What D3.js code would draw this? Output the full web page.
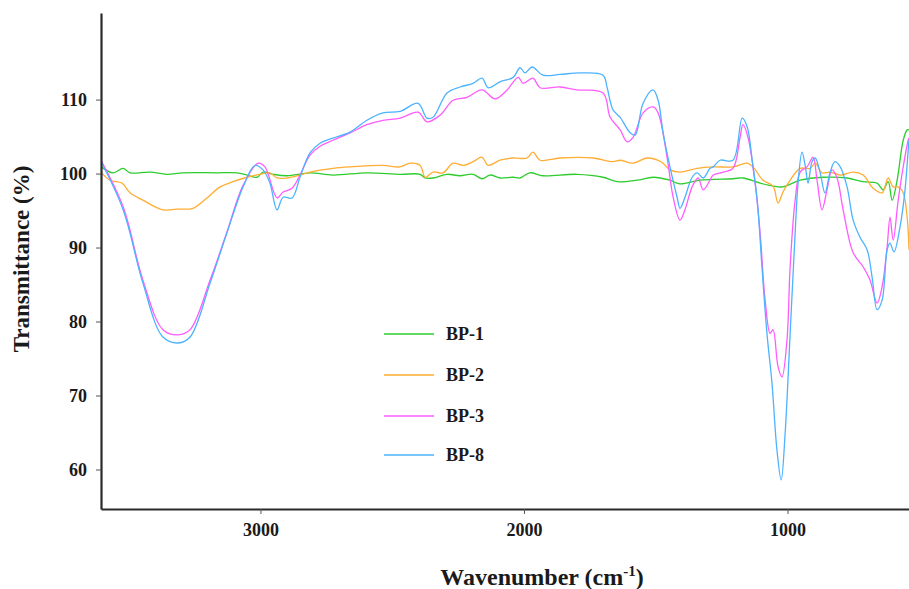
<!DOCTYPE html>
<html>
<head>
<meta charset="utf-8">
<script src="https://cdn.jsdelivr.net/npm/d3@7"></script>
<style>
  html, body { margin: 0; padding: 0; background: #ffffff; }
  svg { display: block; }
  text { font-family: "Liberation Serif", "Times New Roman", serif; font-weight: bold; fill: #1a1a1a; }
</style>
</head>
<body>
<svg id="chart" width="909" height="589"></svg>
<script>
// ---- data (wavenumber cm^-1, transmittance %) ----
const seriesNames = ["BP-1", "BP-2", "BP-3", "BP-8"];
const seriesColors = ["#2ecc2e", "#ffad33", "#ff5cff", "#4db3ff"];
const waveTicks = [3000, 2000, 1000];
const transTicks = [60, 70, 80, 90, 100, 110];

const bp1 = [
  [3605,100.9],[3559,100.1],[3521,100.7],[3495,100.1],[3419,100.2],[3355,99.9],[3294,100.1],
  [3165,100.1],[3089,100.1],[3051,99.8],[3013,99.5],[2990,100.2],[2952,99.9],[2899,99.7],
  [2812,100.1],[2725,99.8],[2596,100.1],[2470,99.9],[2394,99.9],[2375,99.4],[2345,99.4],
  [2292,99.9],[2243,99.7],[2193,99.9],[2159,99.3],[2129,99.8],[2091,99.4],[2041,99.5],
  [2015,99.4],[1977,100.1],[1928,99.7],[1799,99.9],[1700,99.5],[1647,98.9],[1571,99.1],
  [1510,99.5],[1446,99.1],[1408,98.6],[1332,99.1],[1207,99.3],[1169,99.4],[1104,98.7],
  [1055,98.3],[1017,98.2],[952,99.1],[865,99.5],[774,99.4],[713,98.9],[660,98.7],
  [637,97.8],[618,98.9],[603,96.4],[584,99.1],[561,104.5],[546,105.9],[539,105.9]
];

const bp2 = [
  [3605,100.2],[3571,99.1],[3525,98.7],[3495,97.4],[3446,96.4],[3370,95.1],[3317,95.2],
  [3256,95.3],[3203,96.7],[3153,98.2],[3104,98.9],[3051,99.5],[3002,99.9],[2964,100.1],
  [2937,99.4],[2899,99.4],[2850,99.8],[2812,100.2],[2725,100.7],[2660,100.9],[2535,101.1],
  [2470,100.9],[2432,101.4],[2394,101.1],[2375,99.5],[2345,100.2],[2307,100.1],[2269,101.4],
  [2231,101.1],[2193,101.6],[2159,102.2],[2136,101.1],[2091,101.8],[2041,102.1],[1988,102.1],
  [1966,102.9],[1939,101.8],[1863,102.1],[1738,102.1],[1662,101.6],[1635,101.8],[1586,101.4],
  [1533,102.1],[1480,101.6],[1446,100.5],[1408,100.2],[1343,100.7],[1282,100.9],[1207,100.9],
  [1153,101.4],[1131,100.9],[1093,99.1],[1055,98.3],[1036,96.0],[1017,97.5],[990,99.1],
  [952,100.7],[914,100.7],[895,101.4],[869,100.1],[838,100.2],[800,99.8],[751,100.2],
  [713,99.8],[675,98.0],[641,97.4],[618,99.4],[599,98.2],[580,98.2],[561,97.4],[546,94.1],[539,89.7]
];

const bp3 = [
  [3605,101.8],[3521,95.5],[3446,85.6],[3370,78.9],[3313,78.2],[3267,78.9],[3191,85.6],
  [3127,92.1],[3066,98.4],[3009,101.4],[2983,100.9],[2937,96.7],[2914,97.5],[2880,98.0],
  [2850,99.8],[2812,102.5],[2774,103.7],[2725,104.5],[2660,105.5],[2596,106.6],[2535,107.2],
  [2470,107.5],[2402,108.3],[2368,107.0],[2318,107.9],[2269,109.9],[2216,110.3],[2159,111.3],
  [2110,110.1],[2064,111.3],[2022,113.0],[2003,112.2],[1966,112.9],[1939,111.6],[1863,111.7],
  [1799,111.3],[1700,110.9],[1673,107.6],[1635,105.9],[1609,104.3],[1586,104.9],[1548,108.2],
  [1510,109.0],[1491,108.2],[1457,102.2],[1434,96.8],[1408,93.7],[1389,95.1],[1362,98.2],
  [1339,99.4],[1320,97.8],[1294,99.1],[1282,99.8],[1244,100.2],[1207,100.7],[1180,104.9],
  [1169,106.6],[1150,104.9],[1123,98.7],[1104,92.0],[1085,82.9],[1066,78.4],[1055,78.9],
  [1036,73.9],[1021,72.5],[1002,77.5],[990,87.4],[971,96.4],[952,100.2],[926,100.9],
  [903,102.2],[888,99.1],[869,95.1],[850,97.8],[831,100.5],[812,99.4],[789,95.1],
  [751,89.3],[713,87.4],[687,85.6],[660,82.5],[641,84.7],[622,90.1],[611,94.1],
  [599,91.0],[580,96.4],[561,100.9],[542,104.5],[539,104.8]
];

const bp8 = [
  [3605,101.6],[3521,95.1],[3446,85.2],[3370,77.9],[3313,77.1],[3267,77.9],[3191,85.2],
  [3127,92.0],[3066,98.2],[3021,101.1],[2990,100.5],[2964,98.7],[2937,95.1],[2914,96.8],
  [2880,96.7],[2850,99.5],[2812,102.8],[2774,104.1],[2725,104.8],[2660,105.6],[2596,107.2],
  [2535,108.2],[2470,108.4],[2402,109.5],[2368,107.5],[2345,107.6],[2292,110.9],[2243,111.7],
  [2193,112.2],[2159,112.9],[2136,111.6],[2091,112.4],[2041,113.0],[2015,114.3],[1996,113.6],
  [1969,114.4],[1928,113.3],[1863,113.4],[1787,113.6],[1700,113.3],[1685,111.7],[1662,108.6],
  [1635,107.6],[1597,105.5],[1578,105.2],[1548,109.5],[1510,111.3],[1491,109.9],[1472,105.5],
  [1446,100.9],[1419,96.8],[1408,95.3],[1389,96.8],[1362,99.5],[1343,100.1],[1320,99.4],
  [1294,100.7],[1282,100.9],[1256,101.8],[1207,101.8],[1172,107.5],[1153,106.3],[1134,101.8],
  [1115,96.4],[1097,87.4],[1078,78.4],[1059,71.7],[1040,62.6],[1024,58.6],[1009,64.9],
  [990,78.4],[971,92.0],[960,98.7],[945,102.9],[933,101.1],[922,98.7],[907,101.6],
  [895,102.1],[876,100.1],[858,97.4],[838,100.2],[820,101.6],[800,100.9],[774,98.2],
  [751,93.7],[725,91.4],[698,89.7],[679,86.0],[660,81.6],[641,82.9],[622,89.7],
  [611,90.6],[596,89.4],[573,92.8],[554,97.8],[542,103.2],[539,104.5]
];

const seriesData = [bp1, bp2, bp3, bp8];

// ---- layout ----
const svg = d3.select("#chart");
const plotLeft = 101, plotRight = 909, plotTop = 13, plotBottom = 509;

const x = d3.scaleLinear().domain([3605, 539]).range([plotLeft, plotRight]);
const y = d3.scaleLinear().domain([54.66, 121.7]).range([plotBottom, plotTop]);

const clipId = "plotclip";
svg.append("defs").append("clipPath").attr("id", clipId)
  .append("rect").attr("x", plotLeft).attr("y", plotTop)
  .attr("width", plotRight - plotLeft).attr("height", plotBottom - plotTop);

const plot = svg.append("g").attr("clip-path", `url(#${clipId})`);

const line = d3.line()
  .x(d => x(d[0]))
  .y(d => y(d[1]))
  .curve(d3.curveCatmullRom.alpha(0.5));

seriesData.forEach((data, i) => {
  plot.append("path")
    .datum(data)
    .attr("fill", "none")
    .attr("stroke", seriesColors[i])
    .attr("stroke-width", 1.3)
    .attr("stroke-linejoin", "round")
    .attr("d", line);
});

// ---- axes ----
const xAxis = d3.axisBottom(x).tickValues(waveTicks).tickFormat(d3.format("d"))
  .tickSize(5).tickSizeOuter(0).tickPadding(9);
const gx = svg.append("g").attr("transform", `translate(0,${plotBottom})`).call(xAxis);
gx.select(".domain").attr("stroke", "#2a2a2a").attr("stroke-width", 2.2);
gx.selectAll(".tick line").attr("stroke", "#555").attr("stroke-width", 1);
gx.selectAll(".tick text").style("font-size", "18px").attr("fill", "#111")
  .style("font-family", "'Liberation Serif', serif").style("font-weight", "bold");

const yAxis = d3.axisLeft(y).tickValues(transTicks).tickFormat(d3.format("d"))
  .tickSize(5).tickSizeOuter(0).tickPadding(9);
const gy = svg.append("g").attr("transform", `translate(${plotLeft},0)`).call(yAxis);
gy.select(".domain").attr("stroke", "#2a2a2a").attr("stroke-width", 2.2);
gy.selectAll(".tick line").attr("stroke", "#555").attr("stroke-width", 1);
gy.selectAll(".tick text").style("font-size", "18px").attr("fill", "#111")
  .style("font-family", "'Liberation Serif', serif").style("font-weight", "bold");

// ---- axis titles ----
svg.append("text")
  .attr("transform", "translate(29,259) rotate(-90)")
  .attr("text-anchor", "middle")
  .style("font-size", "23px")
  .text("Transmittance (%)");

const xt = svg.append("text")
  .attr("x", 542).attr("y", 585)
  .attr("text-anchor", "middle")
  .style("font-size", "24px");
xt.append("tspan").text("Wavenumber (cm");
xt.append("tspan").attr("dy", -9).style("font-size", "15px").text("-1");
xt.append("tspan").attr("dy", 9).text(")");

// ---- legend ----
const legendY = [334, 375, 416, 455];
const legend = svg.append("g");
seriesNames.forEach((name, i) => {
  legend.append("line")
    .attr("x1", 384).attr("x2", 434)
    .attr("y1", legendY[i]).attr("y2", legendY[i])
    .attr("stroke", seriesColors[i]).attr("stroke-width", 1.6);
  legend.append("text")
    .attr("x", 446).attr("y", legendY[i])
    .attr("dy", "0.35em")
    .style("font-size", "18px")
    .text(name);
});
</script>
</body>
</html>
